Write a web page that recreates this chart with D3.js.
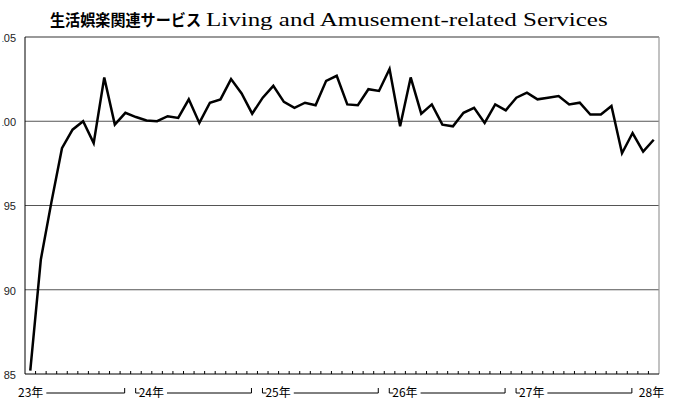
<!DOCTYPE html>
<html>
<head>
<meta charset="utf-8">
<script src="https://cdn.jsdelivr.net/npm/d3@7"></script>
<style>
  body { margin: 0; background: #fff; }
  svg { display: block; }
</style>
</head>
<body>
<div id="chart"></div>
<script>
// monthly index, 23年3月 .. 28年2月
const months = [
  "23.3","23.4","23.5","23.6","23.7","23.8","23.9","23.10","23.11","23.12",
  "24.1","24.2","24.3","24.4","24.5","24.6","24.7","24.8","24.9","24.10","24.11","24.12",
  "25.1","25.2","25.3","25.4","25.5","25.6","25.7","25.8","25.9","25.10","25.11","25.12",
  "26.1","26.2","26.3","26.4","26.5","26.6","26.7","26.8","26.9","26.10","26.11","26.12",
  "27.1","27.2","27.3","27.4","27.5","27.6","27.7","27.8","27.9","27.10","27.11","27.12",
  "28.1","28.2"
];
const values = [
  85.2, 91.8, 95.2, 98.4, 99.5, 100.0, 98.7, 102.6, 99.8, 100.5,
  100.25, 100.05, 100.0, 100.3, 100.2, 101.3, 99.9, 101.1, 101.3, 102.5, 101.65, 100.45,
  101.4, 102.1, 101.15, 100.8, 101.1, 100.95, 102.4, 102.7, 101.0, 100.95, 101.9, 101.8,
  103.1, 99.7, 102.6, 100.45, 101.0, 99.8, 99.7, 100.5, 100.8, 99.9, 101.0, 100.65,
  101.4, 101.7, 101.3, 101.4, 101.5, 101.0, 101.1, 100.4, 100.4, 100.9,
  98.1, 99.3, 98.2, 98.9
];
const yTicks = [85, 90, 95, 100, 105];
const yearLabels = ["23年", "24年", "25年", "26年", "27年", "28年"];
const yearStart = ["23.3", "24.1", "25.1", "26.1", "27.1", "28.1"];

const width = 680, height = 401;
const margin = { top: 37, right: 21, bottom: 27, left: 25 };

const svg = d3.select("#chart").append("svg")
    .attr("width", width)
    .attr("height", height);

const x = d3.scaleBand().domain(months).range([margin.left, width - margin.right]);
const y = d3.scaleLinear().domain([85, 105]).range([height - margin.bottom, margin.top]);
const cx = d => x(d) + x.bandwidth() / 2;

// title: japanese part + english part (english is drawn wide in the original)
svg.append("text")
    .attr("x", 50)
    .attr("y", 26)
    .attr("font-family", "'Noto Sans CJK JP', sans-serif")
    .attr("font-size", 16)
    .attr("font-weight", "bold")
    .attr("textLength", 151)
    .attr("lengthAdjust", "spacingAndGlyphs")
    .text("生活娯楽関連サービス");
const en = svg.append("text")
    .attr("y", 26)
    .attr("font-family", "'Liberation Serif', 'Times New Roman', serif")
    .attr("font-size", 19)
    .text("Living and Amusement-related Services");
const enW = en.node().getComputedTextLength();
en.attr("transform", "translate(206,0) scale(" + (402 / enW) + ",1)");

// gridlines
svg.append("g")
    .selectAll("line")
    .data(yTicks.filter(d => d > 85 && d < 105))
    .enter().append("line")
    .attr("x1", margin.left)
    .attr("x2", width - margin.right)
    .attr("y1", d => y(d))
    .attr("y2", d => y(d))
    .attr("stroke", "#555")
    .attr("stroke-width", 1);

// frame top / right
svg.append("line")
    .attr("x1", margin.left).attr("x2", width - margin.right)
    .attr("y1", y(105)).attr("y2", y(105))
    .attr("stroke", "#777").attr("stroke-width", 1.5);
svg.append("line")
    .attr("x1", width - margin.right).attr("x2", width - margin.right)
    .attr("y1", y(105)).attr("y2", y(85))
    .attr("stroke", "#999").attr("stroke-width", 1.2);

// y axis labels (the leading "1" falls off the left edge in the original)
svg.append("clipPath").attr("id", "yclip")
    .append("rect").attr("x", 2.5).attr("y", 0).attr("width", 30).attr("height", height);
svg.append("g")
    .attr("clip-path", "url(#yclip)")
    .selectAll("text")
    .data(yTicks)
    .enter().append("text")
    .attr("x", 16)
    .attr("y", d => y(d) + 1)
    .attr("dy", "0.35em")
    .attr("text-anchor", "end")
    .attr("font-family", "'Liberation Sans', Arial, sans-serif")
    .attr("font-size", 11)
    .attr("fill", "#222")
    .text(d => d);

// left axis line
svg.append("line")
    .attr("x1", margin.left).attr("x2", margin.left)
    .attr("y1", y(105)).attr("y2", y(85))
    .attr("stroke", "#000").attr("stroke-width", 1);

// bottom axis with small upward ticks at month boundaries
const xAxis = d3.axisBottom(x).tickSize(-3).tickFormat("");
const gx = svg.append("g")
    .attr("transform", "translate(0," + y(85) + ")")
    .call(xAxis);
gx.selectAll(".tick").attr("transform", d => "translate(" + (x(d) + x.bandwidth()) + ",0)");
gx.selectAll(".tick").filter(d => d === months[months.length - 1]).remove();
gx.select(".domain").attr("d", "M" + margin.left + ",0H" + (width - margin.right)).attr("stroke", "#000");
gx.selectAll(".tick line").attr("stroke", "#000");

// year bracket labels
const labY = 397, brY = 393;
const yr = svg.append("g")
    .attr("font-family", "'Noto Sans CJK JP', sans-serif")
    .attr("font-size", 12)
    .attr("fill", "#000");
yearLabels.forEach((lab, i) => {
    const b = x(yearStart[i]);
    const first = i === 0, last = i === yearLabels.length - 1;
    const tx = first ? 18 : (last ? b + 1 : b + 8);
    const t = yr.append("text").attr("x", tx).attr("y", labY).text(lab);
    if (!first && !last) {
        yr.append("path")
            .attr("d", "M" + (b + 5) + "," + (brY - 5) + "V" + brY + "H" + (b + 9))
            .attr("fill", "none").attr("stroke", "#000").attr("stroke-width", 1);
    }
    if (!last) {
        const tw = t.node().getComputedTextLength();
        const nb = x(yearStart[i + 1]);
        yr.append("path")
            .attr("d", "M" + (tx + tw + 3) + "," + brY + "H" + (nb - 6) + "V" + (brY - 5))
            .attr("fill", "none").attr("stroke", "#000").attr("stroke-width", 1);
    }
});

// series line
const line = d3.line()
    .x((d, i) => cx(months[i]))
    .y(d => y(d));
svg.append("path")
    .datum(values)
    .attr("fill", "none")
    .attr("stroke", "#000")
    .attr("stroke-width", 2.5)
    .attr("stroke-linejoin", "miter")
    .attr("d", line);
</script>
</body>
</html>
